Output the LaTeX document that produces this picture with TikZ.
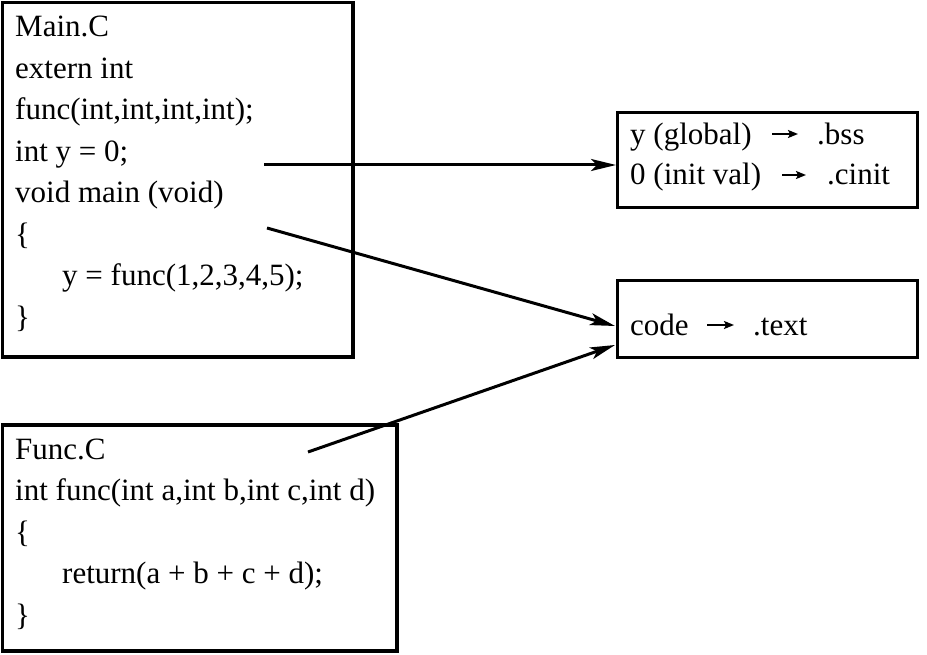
\documentclass[tikz,border=0pt]{standalone}
\usepackage{fontspec}
\setmainfont{Liberation Serif}
\usetikzlibrary{arrows.meta}
\begin{document}
\begin{tikzpicture}[x=1pt,y=-1pt,
  box/.style={draw,line width=3.2pt},
  code/.style={anchor=base west,inner sep=0pt,font=\fontsize{31}{41.5}\selectfont},
  link/.style={line width=3pt,-{Stealth[length=25pt,width=12pt,inset=6pt]}},
  glypharrow/.style={line width=2pt,-{Stealth[length=10pt,width=8pt,inset=2pt]}}]
\useasboundingbox (0,0) rectangle (927,655);
% boxes
\path[box] (2.5,2.5) rectangle (353,357);
\path[box] (2.5,425) rectangle (397,651);
\node[box,anchor=north west,inner sep=0pt,minimum width=300pt,minimum height=95pt] (bss) at (616,111) {};
\node[box,anchor=north west,inner sep=0pt,minimum width=300pt,minimum height=77pt] (txt) at (616,279) {};
% Main.C
\node[code] (m1) at (15,37) {Main.C};
\node[code] (m2) at (15,78.5) {extern int};
\node[code] (m3) at (15,120) {func(int,int,int,int);};
\node[code] (m4) at (15,161.5) {int y = 0;};
\node[code] (m5) at (15,203) {void main (void)};
\node[code] (m6) at (15,244.5) {\{};
\node[code] (m7) at (62,286) {y = func(1,2,3,4,5);};
\node[code] (m8) at (15,327.5) {\}};
% Func.C
\node[code] (f1) at (15,459) {Func.C};
\node[code] (f2) at (15,500.5) {int func(int a,int b,int c,int d)};
\node[code] (f3) at (15,542) {\{};
\node[code] (f4) at (62,583.5) {return(a + b + c + d);};
\node[code] (f5) at (15,625) {\}};
% right boxes
\node[code] (b1a) at (630,145) {y (global)};
\node[code] (b1b) at (817,145) {.bss};
\node[code] (b2a) at (630,185) {0 (init val)};
\node[code] (b2b) at (827,185) {.cinit};
\node[code] (t1a) at (630,335) {code};
\node[code] (t1b) at (753,335) {.text};
\coordinate (g1s) at (772,134); \coordinate (g1e) at (798,134);
\coordinate (g2s) at (782,175); \coordinate (g2e) at (806,175);
\coordinate (g3s) at (707,325); \coordinate (g3e) at (734,325);
\draw[glypharrow] (g1s) -- (g1e);
\draw[glypharrow] (g2s) -- (g2e);
\draw[glypharrow] (g3s) -- (g3e);
% connectors
\coordinate (s1) at (264,165);
\coordinate (s2) at (267,228);
\coordinate (s3) at (308,452);
\coordinate (e2) at (615,326);
\coordinate (e3) at (615,345);
\draw[link] (s1) -- (s1 -| bss.west);
\draw[link] (s2) -- (e2);
\draw[link] (s3) -- (e3);
\end{tikzpicture}
\end{document}
